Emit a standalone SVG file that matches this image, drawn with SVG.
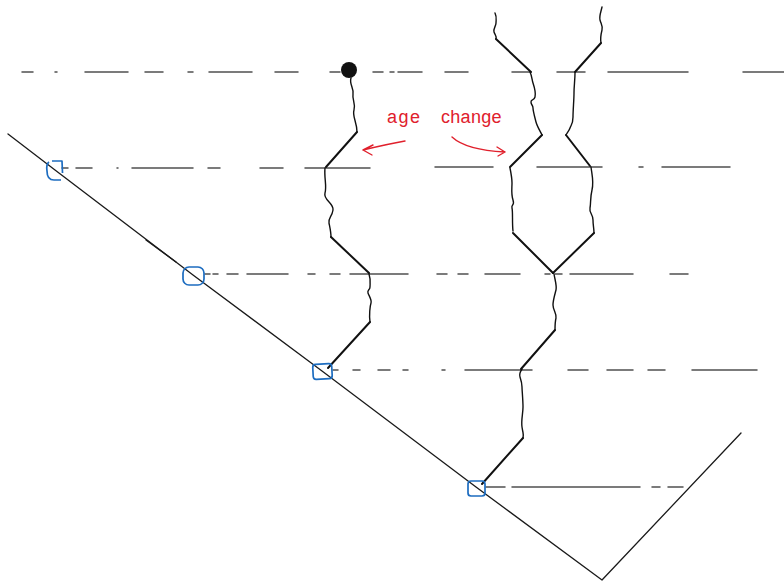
<svg xmlns="http://www.w3.org/2000/svg" width="784" height="584" viewBox="0 0 784 584">
<style>
.dash{fill:none;stroke:#505050;stroke-width:1.5;stroke-linecap:round}
.lin{fill:none;stroke:#111;stroke-width:2;stroke-linecap:round;stroke-linejoin:round}
.wig{fill:none;stroke:#111;stroke-width:1.4;stroke-linecap:round;stroke-linejoin:round}
.main{fill:none;stroke:#1a1a1a;stroke-width:1.3;stroke-linecap:round;stroke-linejoin:round}
.sq{fill:none;stroke:#1c6cc0;stroke-width:1.7;stroke-linejoin:round}
.red{fill:none;stroke:#e0202c;stroke-width:1.4;stroke-linecap:round;stroke-linejoin:round}
.lbl{font-family:"Liberation Sans","DejaVu Sans",sans-serif;font-size:18px;fill:#e0202c}
</style>
<g id="time-lines">
<path class="dash" d="M22,72H33M55,72H57M85,72H128M145,72H163M188,72H193M209,72H252M275,72H298M330,72H340M373,72H383M390,72H394M398,72H422M445,72H468M512,72H530M557,72H585M608,72H688M743,72H784"/>
<path class="dash" d="M62,168H68M76,168H92M117,168H118M132,168H193M208,168H220M260,168H283M305,168H370M435,167H493M537,167H602M639,167H643M662,167H730"/>
<path class="dash" d="M205,274H210M213,274H218M227,274H238M247,274H288M308,274H315M330,274H340M350,274H408M437,274H447M458,274H468M485,274H520M545,274H550M555,274H562M570,274H633M670,274H688"/>
<path class="dash" d="M333,370H338M353,370H360M378,370H390M403,370H408M442,370H445M465,370H532M568,370H588M607,370H633M648,370H665M692,370H757"/>
<path class="dash" d="M486,487H505M512,487H640M652,487H660M668,487H683"/>
</g>
<g id="baseline">
<path class="main" d="M8,134L55,170L193,275L322,371L476,487L602,580L741,433"/>
<path class="main" d="M146,240L176,262"/>
</g>
<g id="lineage-left">
<circle cx="349" cy="70" r="8" fill="#111"/>
<path class="wig" d="M351,78C349,84 354,88 353,94S356,104 354,110S357,122 357,132"/>
<path class="lin" d="M357,132L326,167"/>
<path class="wig" d="M325,168C324,178 327,186 325,193S334,203 333,210S328,218 329,223S331,232 331,237"/>
<path class="lin" d="M331,237L369,273"/>
<path class="wig" d="M369,274C371,280 370,284 370,287S367,290 368,293S372,300 371,303S369,315 370,322"/>
<path class="lin" d="M370,322L328,368"/>
</g>
<g id="lineage-right">
<path class="wig" d="M495,13C497,17 496,20 496,23S493,29 494,32S497,36 496,39"/>
<path class="lin" d="M496,39L531,72"/>
<path class="wig" d="M530,72C532,76 532,80 533,83S536,93 535,97S531,99 531,102S533,105 533,108S535,118 536,122S540,131 542,135"/>
<path class="lin" d="M542,135L510,167"/>
<path class="wig" d="M602,7C601,12 599,16 600,20S603,26 602,30S600,38 601,43"/>
<path class="lin" d="M601,43L575,72"/>
<path class="wig" d="M575,73C575,80 574,86 574,93S573,110 573,117S571,125 570,128S567,133 566,135"/>
<path class="lin" d="M566,135L590,166"/>
<path class="wig" d="M510,168C511,173 512,178 512,183S511,194 513,200S511,204 512,208S512,222 513,231"/>
<path class="lin" d="M513,233L553,273"/>
<path class="wig" d="M591,167C592,175 594,182 592,190S591,203 590,208S593,214 593,220S594,228 594,233"/>
<path class="lin" d="M594,233L553,273"/>
<path class="wig" d="M554,274C555,280 557,286 556,290S553,300 553,305S557,314 556,318S555,326 555,330"/>
<path class="lin" d="M555,330L521,369"/>
<path class="wig" d="M522,369C520,372 519,374 520,377S522,384 522,387S523,400 523,407S521,420 522,427S524,434 523,438"/>
<path class="lin" d="M523,438L482,484"/>
</g>
<g id="markers">
<path class="sq" d="M52,161H62L62.5,173M49,162Q46,164 47,171Q47,180 54,180H61"/>
<rect class="sq" x="183" y="267" width="21" height="18" rx="6"/>
<rect class="sq" x="313" y="364" width="19" height="15" rx="3" transform="rotate(-3 322 372)"/>
<rect class="sq" x="468" y="481" width="17" height="15" rx="3"/>
</g>
<g id="annotation">
<text class="lbl" x="387" y="123" letter-spacing="1.5">age</text>
<text class="lbl" x="441" y="123" letter-spacing="0.3">change</text>
<path class="red" d="M405,141Q388,144 363,150M363,150L373,145M363,150L372,155"/>
<path class="red" d="M452,137Q466,150 505,152M505,152L497,147M505,152L498,156"/>
</g>
</svg>
